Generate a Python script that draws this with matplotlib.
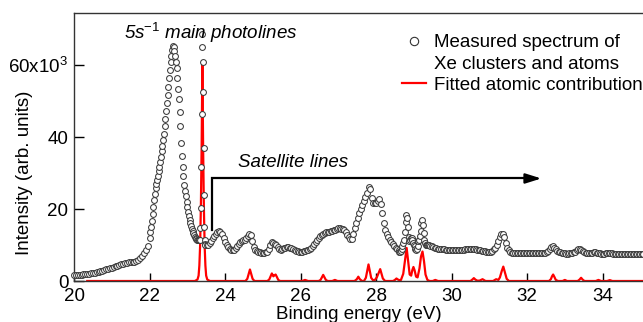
import numpy as np
import matplotlib
matplotlib.use('Agg')
import matplotlib.pyplot as plt
from matplotlib.lines import Line2D

plt.rcParams['font.family'] = ['Liberation Sans', 'DejaVu Sans']
plt.rcParams['font.size'] = 13.5
plt.rcParams['mathtext.fontset'] = 'custom'
plt.rcParams['mathtext.rm'] = 'Liberation Sans'
plt.rcParams['mathtext.it'] = 'Liberation Sans:italic'

# Measured spectrum (intensity in units of 10^3), sampled in segments: (start eV, step eV, values)
meas_a = [1.6, 1.65, 1.7, 1.75, 1.8, 1.85, 1.9, 1.95, 2.05, 2.15,
          2.25, 2.35, 2.5, 2.6, 2.75, 2.9, 3.05, 3.2, 3.4, 3.55,
          3.7, 3.9, 4.1, 4.3, 4.5, 4.65, 4.8, 4.95, 5.05, 5.15,
          5.25, 5.3, 5.4, 5.55, 5.85, 6.3, 6.9, 7.7, 8.6, 9.7]
meas_b = [12.0, 13.5, 15.0, 16.8, 18.5, 20.5, 22.5, 24.3, 25.8, 27.0,
          28.0, 29.2, 30.5, 31.8, 33.0, 34.5, 36.0, 37.5, 39.3, 41.0,
          43.0, 45.0, 47.2, 49.4, 51.6, 54.0, 56.3, 58.6, 60.8, 62.6,
          64.2, 65.2, 65.0, 64.0, 62.5, 61.0, 59.2, 56.5, 53.5, 50.5,
          47.0, 43.0, 38.5, 34.8, 31.8, 29.2, 26.8, 25.0, 23.5, 22.0,
          20.6, 19.3, 18.0, 16.9, 16.0, 15.2, 14.5, 13.9, 13.3, 12.8,
          12.3, 11.9, 11.6, 11.4, 11.3, 11.3, 11.4]
meas_c = [11.5, 14.7, 20.3, 31.7, 46.4, 65.0, 68.8, 61.0, 52.6, 37.0,
          24.0, 15.0, 11.4, 10.3]
meas_d = [10.1, 10.0, 10.1, 10.5, 11.2, 11.9, 12.6, 13.2, 13.6, 13.8,
          13.6, 13.0, 12.0, 10.9, 10.0, 9.4, 9.0, 8.7, 8.6, 8.7,
          9.1, 9.7, 10.3, 10.8, 11.1, 11.3, 11.5, 11.9, 12.6, 13.2,
          12.8, 11.0, 9.4, 8.7, 8.3, 8.1, 8.0, 7.9, 7.9, 7.9,
          8.0, 8.2, 8.8, 10.0, 10.9, 10.6, 10.2, 9.9, 9.4, 8.9,
          8.7, 8.8, 9.1, 9.3, 9.4, 9.4, 9.3, 9.1, 8.8, 8.6,
          8.4, 8.3, 8.2, 8.2, 8.2, 8.3, 8.4, 8.5, 8.6, 8.9,
          9.3, 9.8, 10.3, 10.9, 11.5, 12.0, 12.4, 12.8, 13.1, 13.3,
          13.5, 13.6, 13.7, 13.8, 13.9, 14.1, 14.3, 14.5, 14.6, 14.6,
          14.5, 14.4, 14.2, 13.7, 12.9, 12.1, 11.7, 11.8, 13.0, 14.6,
          16.2, 17.6, 18.9, 20.0, 21.1, 22.2, 23.3, 24.6, 26.0, 25.5,
          23.0, 21.8, 21.6, 21.8, 22.3, 22.7, 21.5, 18.8, 16.0, 14.3,
          13.2, 12.3, 11.5, 10.9, 10.3, 9.8, 9.3, 8.9]
meas_e = [8.5, 8.2, 8.1, 8.3, 8.8, 9.6, 10.5, 11.5, 13.5, 16.5,
          18.3, 17.5, 15.0, 12.2, 11.2, 11.5, 11.9, 11.9, 11.3, 10.6,
          10.0, 9.6, 9.0, 8.6, 8.8, 9.8, 11.0, 11.4, 12.5, 14.0,
          16.1, 16.9, 15.5, 13.3, 11.4, 10.5, 10.0, 10.0, 10.0, 9.9]
meas_f = [9.9, 9.8, 9.6, 9.5, 9.3, 9.1, 9.0, 8.9, 8.9, 8.8,
          8.8, 8.7, 8.7, 8.6, 8.6, 8.6, 8.6, 8.6, 8.6, 8.6,
          8.6, 8.6, 8.7, 8.7, 8.8, 8.9, 8.9, 9.0, 9.0, 9.0,
          8.9, 8.8, 8.7, 8.6, 8.5, 8.4, 8.4, 8.3, 8.2, 8.1,
          8.1, 8.2, 8.4, 8.8, 9.3, 10.0, 11.0, 12.2, 13.0, 13.2,
          12.2, 10.6, 9.3, 8.5, 8.1, 7.9, 7.8, 7.8, 7.7, 7.7,
          7.7, 7.7, 7.7, 7.7, 7.8, 7.8, 7.8, 7.7, 7.7, 7.7,
          7.7, 7.7, 7.7, 7.7, 7.7, 7.8, 7.8, 7.9, 8.1, 8.4,
          8.9, 9.4, 9.6, 9.3, 8.8, 8.4, 8.1, 8.0, 7.8, 7.7,
          7.7, 7.6, 7.6, 7.7, 7.8, 7.9, 8.0, 8.2, 8.5, 8.8,
          8.9, 8.7, 8.4, 8.1, 7.9, 7.8, 7.8, 7.8, 7.9, 8.0,
          8.0, 7.9, 7.8, 7.7, 7.6, 7.6, 7.6, 7.7, 7.7, 7.7,
          7.7, 7.7, 7.6, 7.6, 7.6, 7.6, 7.6, 7.6, 7.6, 7.6,
          7.6, 7.6, 7.6, 7.6, 7.6, 7.6, 7.6, 7.6, 7.6, 7.6,
          7.6, 7.6, 7.6]
meas_segments = [(20.00, 0.05, meas_a), (22.00, 0.02, meas_b), (23.34, 0.01, meas_c),
                 (23.48, 0.04, meas_d), (28.60, 0.02, meas_e), (29.40, 0.04, meas_f)]

# Fitted atomic contribution (energy eV, intensity 10^3)
fit_energy = [20.35, 23.20, 23.27, 23.30, 23.32, 23.34, 23.36, 23.38, 23.40, 23.42,
              23.44, 23.46, 23.48, 23.50, 23.53, 23.60,
              24.54, 24.59, 24.63, 24.66, 24.69, 24.73, 24.78,
              25.12, 25.17, 25.21, 25.24, 25.28, 25.31, 25.34, 25.37, 25.41, 25.46,
              26.04, 26.12, 26.20,
              26.48, 26.53, 26.57, 26.60, 26.63, 26.67, 26.72,
              26.84, 26.91, 26.98,
              27.43, 27.49, 27.53, 27.57, 27.63,
              27.68, 27.73, 27.77, 27.80, 27.83, 27.87, 27.92, 27.97, 28.02, 28.07,
              28.11, 28.14, 28.18, 28.24,
              28.45, 28.50, 28.54, 28.58, 28.63,
              28.66, 28.72, 28.77, 28.81, 28.85, 28.89, 28.93, 28.96, 28.99, 29.02,
              29.06, 29.10, 29.15, 29.19, 29.23, 29.27, 29.31, 29.36, 29.42,
              29.50, 29.57, 29.64,
              30.50, 30.55, 30.59, 30.63, 30.68, 30.74, 30.82, 30.90,
              31.10, 31.18, 31.24, 31.28, 31.33, 31.37, 31.41, 31.46, 31.52,
              32.58, 32.63, 32.66, 32.69, 32.72, 32.76, 32.82,
              32.94, 33.00, 33.06,
              33.34, 33.39, 33.43, 33.47, 33.52,
              33.82, 33.89, 33.96,
              34.12, 34.19, 34.26, 35.20]
fit_intensity = [0, 0, 0.4, 1.5, 4.3, 9.8, 20.4, 37.0, 60.0, 37.0,
                 20.4, 9.8, 4.3, 1.5, 0.4, 0,
                 0, 0.6, 2.1, 3.2, 2.1, 0.6, 0,
                 0, 0.4, 1.4, 2.1, 1.3, 1.6, 1.8, 1.2, 0.3, 0,
                 0, 0.3, 0,
                 0, 0.3, 1.1, 1.7, 1.1, 0.3, 0,
                 0, 0.3, 0,
                 0, 0.5, 1.2, 0.5, 0,
                 0, 0.9, 3.0, 4.6, 3.0, 0.9, 0.2, 0.3, 1.0, 2.3,
                 3.3, 2.2, 0.7, 0,
                 0, 0.3, 0.7, 0.4, 0.2,
                 0.3, 2.0, 6.0, 9.2, 5.5, 1.8, 1.5, 3.0, 3.9, 3.0,
                 1.2, 1.0, 3.5, 6.8, 8.2, 5.5, 1.8, 0.3, 0,
                 0, 0.3, 0,
                 0, 0.4, 0.8, 0.4, 0.1, 0.1, 0.5, 0,
                 0, 0.5, 0.3, 1.0, 2.8, 4.0, 2.5, 0.6, 0,
                 0, 0.5, 1.3, 1.8, 1.2, 0.3, 0,
                 0, 0.3, 0,
                 0, 0.4, 0.9, 0.4, 0,
                 0, 0.3, 0,
                 0, 0.25, 0, 0]

y_ticks = [0, 20, 40, 60]
y_tick_labels = ['0', '20', '40', '60x10$^3$']
x_ticks = [20, 22, 24, 26, 28, 30, 32, 34]

# annotation anchors (data coords)
main_label_pos = (23.62, 68.9)
sat_label_pos = (25.8, 32.9)
sat_bracket_x = 23.66
sat_bracket_y = (14.2, 28.5)
sat_arrow_end = 32.45

meas_energy = np.concatenate([s + st * np.arange(len(v)) for s, st, v in meas_segments])
meas_intensity = np.concatenate([v for _, _, v in meas_segments])

fig = plt.figure(figsize=(6.43, 3.22), dpi=100)
ax = fig.add_axes([74 / 643, 41 / 322, 569 / 643, 268 / 322])

ax.plot(fit_energy, fit_intensity, color='red', lw=1.6, zorder=2)
ax.plot(meas_energy, meas_intensity, 'o', ms=4.2, mfc='white', mec='#3a3a3a', mew=0.75,
        zorder=3, clip_on=False)

# satellite bracket + arrow
ax.plot([sat_bracket_x, sat_bracket_x, sat_arrow_end - 0.3],
        [sat_bracket_y[0], sat_bracket_y[1], sat_bracket_y[1]], color='black', lw=1.6,
        solid_joinstyle='miter', zorder=4)
ax.annotate('', xy=(sat_arrow_end, sat_bracket_y[1]), xytext=(sat_arrow_end - 0.4, sat_bracket_y[1]),
            arrowprops=dict(arrowstyle='-|>,head_length=0.7,head_width=0.22', color='black', lw=1.6))
ax.text(*sat_label_pos, 'Satellite lines', style='italic', ha='center', va='center')
ax.text(*main_label_pos, '5s$^{-1}$ main photolines', style='italic', ha='center', va='center')

ax.set_xlim(20, 35.07)
ax.set_ylim(0, 74.5)
ax.set_xticks(x_ticks)
ax.set_xticklabels([str(t) for t in x_ticks])
ax.set_yticks(y_ticks)
ax.set_yticklabels(y_tick_labels)
ax.tick_params(axis='x', direction='in', length=6, width=1, pad=5)
ax.tick_params(axis='y', direction='in', length=7, width=1, pad=4)
ax.spines['right'].set_visible(False)
for side in ['left', 'top', 'bottom']:
    ax.spines[side].set_color('#333333')
    ax.spines[side].set_linewidth(1.0)

ax.set_xlabel('Binding energy (eV)', labelpad=1)
ax.set_ylabel('Intensity (arb. units)')
ax.yaxis.set_label_coords(-0.072, 0.403)

handles = [Line2D([], [], marker='o', ls='none', ms=6, mfc='white', mec='#333333', mew=0.8),
           Line2D([], [], ls='none'),
           Line2D([], [], color='red', lw=1.6)]
labels = ['Measured spectrum of', 'Xe clusters and atoms', 'Fitted atomic contribution']
ax.legend(handles, labels, loc='upper left', bbox_to_anchor=(0.5764, 0.921), frameon=False,
          borderpad=0, borderaxespad=0, handlelength=1.3, handletextpad=0.4, labelspacing=0.22)

fig.savefig('out.png', dpi=100)
